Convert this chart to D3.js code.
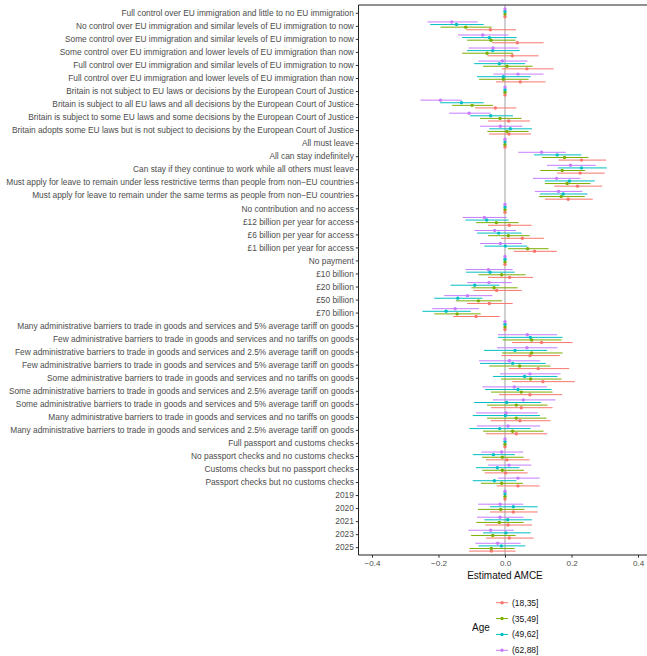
<!DOCTYPE html>
<html>
<head>
<meta charset="utf-8">
<script src="https://cdn.jsdelivr.net/npm/d3@7"></script>
<style>
  body { margin: 0; background: #fff; }
  svg { display: block; font-family: "Liberation Sans", Arial, Helvetica, sans-serif; }
</style>
</head>
<body>
<svg id="chart"></svg>
<script>
// CHART DATA

const attrLevels = [
  "Full control over EU immigration and little to no EU immigration",
  "No control over EU immigration and similar levels of EU immigration to now",
  "Some control over EU immigration and similar levels of EU immigration to now",
  "Some control over EU immigration and lower levels of EU immigration than now",
  "Full control over EU immigration and similar levels of EU immigration to now",
  "Full control over EU immigration and lower levels of EU immigration than now",
  "Britain is not subject to EU laws or decisions by the European Court of Justice",
  "Britain is subject to all EU laws and all decisions by the European Court of Justice",
  "Britain is subject to some EU laws and some decisions by the European Court of Justice",
  "Britain adopts some EU laws but is not subject to decisions by the European Court of Justice",
  "All must leave",
  "All can stay indefinitely",
  "Can stay if they continue to work while all others must leave",
  "Must apply for leave to remain under less restrictive terms than people from non\u2212EU countries",
  "Must apply for leave to remain under the same terms as people from non\u2212EU countries",
  "No contribution and no access",
  "£12 billion per year for access",
  "£6 billion per year for access",
  "£1 billion per year for access",
  "No payment",
  "£10 billion",
  "£20 billion",
  "£50 billion",
  "£70 billion",
  "Many administrative barriers to trade in goods and services and 5% average tariff on goods",
  "Few administrative barriers to trade in goods and services and no tariffs on goods",
  "Few administrative barriers to trade in goods and services and 2.5% average tariff on goods",
  "Few administrative barriers to trade in goods and services and 5% average tariff on goods",
  "Some administrative barriers to trade in goods and services and no tariffs on goods",
  "Some administrative barriers to trade in goods and services and 2.5% average tariff on goods",
  "Some administrative barriers to trade in goods and services and 5% average tariff on goods",
  "Many administrative barriers to trade in goods and services and no tariffs on goods",
  "Many administrative barriers to trade in goods and services and 2.5% average tariff on goods",
  "Full passport and customs checks",
  "No passport checks and no customs checks",
  "Customs checks but no passport checks",
  "Passport checks but no customs checks",
  "2019",
  "2020",
  "2021",
  "2023",
  "2025"
];

const ageGroups = ["(18,35]", "(35,49]", "(49,62]", "(62,88]"];
const ageColors = ["#F8766D", "#7CAE00", "#00BFC4", "#C77CFF"];

// (18,35]
const est18 = [0,-0.044,0.037,0.022,0.066,0.046,0,-0.029,0.011,0.012,0,0.230,0.226,0.218,0.190,0,0.013,0.052,0.089,0,0.014,-0.025,-0.047,-0.087,0,0.110,0.075,0.100,0.114,0.075,0.049,0.045,0.034,0,0.006,0.002,0.039,0,0.025,0.009,0.013,-0.041];
const lo18  = [0,-0.117,-0.039,-0.053,-0.010,-0.027,0,-0.090,-0.051,-0.048,0,0.161,0.156,0.148,0.120,0,-0.051,-0.012,0.026,0,-0.051,-0.095,-0.114,-0.156,0,0.021,-0.011,0.011,0.022,-0.018,-0.042,-0.043,-0.057,0,-0.057,-0.061,-0.025,0,-0.045,-0.059,-0.057,-0.108];
const hi18  = [0,0.033,0.116,0.101,0.146,0.122,0,0.034,0.075,0.078,0,0.304,0.300,0.292,0.264,0,0.080,0.117,0.156,0,0.084,0.050,0.023,-0.016,0,0.203,0.165,0.193,0.210,0.172,0.143,0.137,0.127,0,0.074,0.068,0.104,0,0.098,0.081,0.086,0.032];

// (35,49]
const est35 = [0,-0.118,-0.042,-0.054,0.006,-0.005,0,-0.099,-0.015,0.006,0,0.179,0.172,0.187,0.169,0,-0.026,0.010,0.068,0,-0.010,-0.033,-0.080,-0.144,0,0.080,0.080,0.044,0.077,0.049,0.034,0.034,0.023,0,-0.008,-0.008,-0.010,0,-0.013,-0.017,-0.037,-0.041];
const lo35  = [0,-0.194,-0.114,-0.129,-0.066,-0.078,0,-0.159,-0.075,-0.053,0,0.111,0.106,0.120,0.102,0,-0.087,-0.051,0.009,0,-0.080,-0.101,-0.148,-0.213,0,-0.007,-0.009,-0.047,-0.012,-0.042,-0.054,-0.054,-0.066,0,-0.069,-0.069,-0.072,0,-0.081,-0.086,-0.102,-0.107];
const hi35  = [0,-0.040,0.032,0.024,0.083,0.071,0,-0.036,0.050,0.071,0,0.251,0.241,0.257,0.240,0,0.041,0.074,0.131,0,0.062,0.038,-0.009,-0.073,0,0.170,0.173,0.137,0.170,0.143,0.128,0.125,0.116,0,0.056,0.057,0.054,0,0.058,0.056,0.032,0.029];

// (49,62]
const est49 = [0,-0.146,-0.047,-0.037,-0.017,-0.005,0,-0.131,-0.043,0.016,0,0.157,0.230,0.194,0.175,0,-0.055,-0.019,0.001,0,-0.045,-0.091,-0.142,-0.177,0,0.076,0.030,0.023,0.059,0.039,0.005,0.001,-0.016,0,-0.035,-0.023,-0.032,0,0.025,0.008,0.003,-0.011];
const lo49  = [0,-0.225,-0.129,-0.114,-0.093,-0.084,0,-0.195,-0.105,-0.047,0,0.087,0.159,0.120,0.105,0,-0.119,-0.084,-0.062,0,-0.117,-0.164,-0.213,-0.248,0,-0.021,-0.063,-0.075,-0.036,-0.060,-0.093,-0.097,-0.107,0,-0.097,-0.087,-0.097,0,-0.045,-0.062,-0.066,-0.080];
const hi49  = [0,-0.064,0.035,0.044,0.061,0.077,0,-0.064,0.024,0.081,0,0.230,0.306,0.270,0.248,0,0.011,0.050,0.067,0,0.029,-0.017,-0.068,-0.103,0,0.173,0.127,0.122,0.158,0.140,0.108,0.105,0.077,0,0.030,0.043,0.034,0,0.098,0.081,0.077,0.061];

// (62,88]
const est62 = [0,-0.160,-0.067,-0.036,-0.008,0.039,0,-0.194,-0.108,-0.014,0,0.110,0.197,0.155,0.161,0,-0.062,-0.031,-0.014,0,-0.050,-0.048,-0.113,-0.150,0,0.067,0.066,0.013,0.075,0.028,0.055,0.004,0.009,0,-0.010,0.012,0.039,0,-0.015,-0.015,-0.043,-0.022];
const lo62  = [0,-0.233,-0.142,-0.110,-0.080,-0.035,0,-0.254,-0.168,-0.075,0,0.040,0.126,0.084,0.090,0,-0.127,-0.092,-0.075,0,-0.119,-0.114,-0.183,-0.219,0,-0.021,-0.024,-0.078,-0.015,-0.068,-0.037,-0.087,-0.085,0,-0.071,-0.051,-0.021,0,-0.081,-0.084,-0.110,-0.089];
const hi62  = [0,-0.082,0.011,0.041,0.068,0.116,0,-0.130,-0.043,0.052,0,0.183,0.273,0.227,0.233,0,0.005,0.033,0.051,0,0.023,0.020,-0.038,-0.078,0,0.157,0.158,0.106,0.167,0.126,0.152,0.098,0.106,0,0.055,0.079,0.104,0,0.055,0.056,0.027,0.047];

const xTicks = [-0.4, -0.2, 0.0, 0.2, 0.4];

// BUILD ROWS

const seriesEst = [est18, est35, est49, est62];
const seriesLo = [lo18, lo35, lo49, lo62];
const seriesHi = [hi18, hi35, hi49, hi62];

let rows = [];
ageGroups.forEach(function(g, gi) {
    attrLevels.forEach(function(lvl, li) {
        rows.push({
            level: lvl,
            group: g,
            est: seriesEst[gi][li],
            lo: seriesLo[gi][li],
            hi: seriesHi[gi][li]
        });
    });
});

const width = 647;
const height = 656;
const panelLeft = 358.5;
const panelRight = 647;
const panelTop = 5;
const panelBottom = 555;

const svg = d3.select('#chart')
    .attr('width', width)
    .attr('height', height);

const x = d3.scaleLinear()
    .domain([-0.4, 0.4])
    .range([372, 638]);

const y = d3.scalePoint()
    .domain(attrLevels)
    .range([panelTop, panelBottom])
    .padding(0.6);

// dodge: first group lowest in each row
const dodge = d3.scalePoint()
    .domain(ageGroups)
    .range([3.9, -3.9]);

const color = d3.scaleOrdinal()
    .domain(ageGroups)
    .range(ageColors);

// zero reference line
svg.append('line')
    .attr('x1', x(0)).attr('x2', x(0))
    .attr('y1', panelTop).attr('y2', panelBottom)
    .attr('stroke', '#c4c4c4')
    .attr('stroke-width', 1.6);

// confidence intervals
svg.append('g')
    .selectAll('line')
    .data(rows.filter(d => d.hi !== d.lo))
    .join('line')
    .attr('x1', d => x(d.lo))
    .attr('x2', d => x(d.hi))
    .attr('y1', d => y(d.level) + dodge(d.group))
    .attr('y2', d => y(d.level) + dodge(d.group))
    .attr('stroke', d => color(d.group))
    .attr('stroke-width', 1);

// point estimates
svg.append('g')
    .selectAll('circle')
    .data(rows)
    .join('circle')
    .attr('cx', d => x(d.est))
    .attr('cy', d => y(d.level) + dodge(d.group))
    .attr('r', 1.7)
    .attr('fill', d => color(d.group));

// AXES

const yAxis = svg.append('g')
    .attr('transform', `translate(${panelLeft},0)`)
    .call(d3.axisLeft(y).tickSize(2.7).tickPadding(2));
yAxis.select('.domain').remove();
yAxis.selectAll('.tick line').attr('stroke', '#333');
yAxis.selectAll('.tick text')
    .attr('fill', '#4d4d4d')
    .style('font-size', '8.35px')
    .style('font-family', '"Liberation Sans", Arial, sans-serif');

const xAxis = svg.append('g')
    .attr('transform', `translate(0,${panelBottom})`)
    .call(d3.axisBottom(x).tickValues(xTicks).tickSize(2.7).tickPadding(2.5)
        .tickFormat(d => d3.format('.1f')(d).replace('-', '\u2212')));
xAxis.select('.domain').remove();
xAxis.selectAll('.tick line').attr('stroke', '#333');
xAxis.selectAll('.tick text')
    .attr('fill', '#4d4d4d')
    .style('font-size', '8.1px')
    .style('font-family', '"Liberation Sans", Arial, sans-serif');

// panel outline: left, bottom and top lines
svg.append('path')
    .attr('d', `M ${panelRight} ${panelTop} L ${panelLeft} ${panelTop} L ${panelLeft} ${panelBottom} L ${panelRight} ${panelBottom}`)
    .attr('fill', 'none')
    .attr('stroke', '#222')
    .attr('stroke-width', 1);

svg.append('text')
    .attr('x', x(0))
    .attr('y', 579)
    .attr('text-anchor', 'middle')
    .style('font-size', '10px')
    .attr('fill', '#111')
    .text('Estimated AMCE');

// LEGEND

const legend = svg.append('g');
legend.append('text')
    .attr('x', 472)
    .attr('y', 630.5)
    .style('font-size', '10px')
    .attr('fill', '#111')
    .text('Age');

const legY = d3.scalePoint()
    .domain(ageGroups)
    .range([602.7, 650.3]);

const keys = legend.selectAll('g.key')
    .data(ageGroups)
    .join('g')
    .attr('class', 'key')
    .attr('transform', d => `translate(0,${legY(d)})`);

keys.append('line')
    .attr('x1', 496).attr('x2', 508)
    .attr('stroke', d => color(d))
    .attr('stroke-width', 1);
keys.append('circle')
    .attr('cx', 502)
    .attr('r', 1.7)
    .attr('fill', d => color(d));
keys.append('text')
    .attr('x', 512)
    .attr('y', 3)
    .style('font-size', '8.5px')
    .attr('fill', '#111')
    .text(d => d);
</script>
</body>
</html>
